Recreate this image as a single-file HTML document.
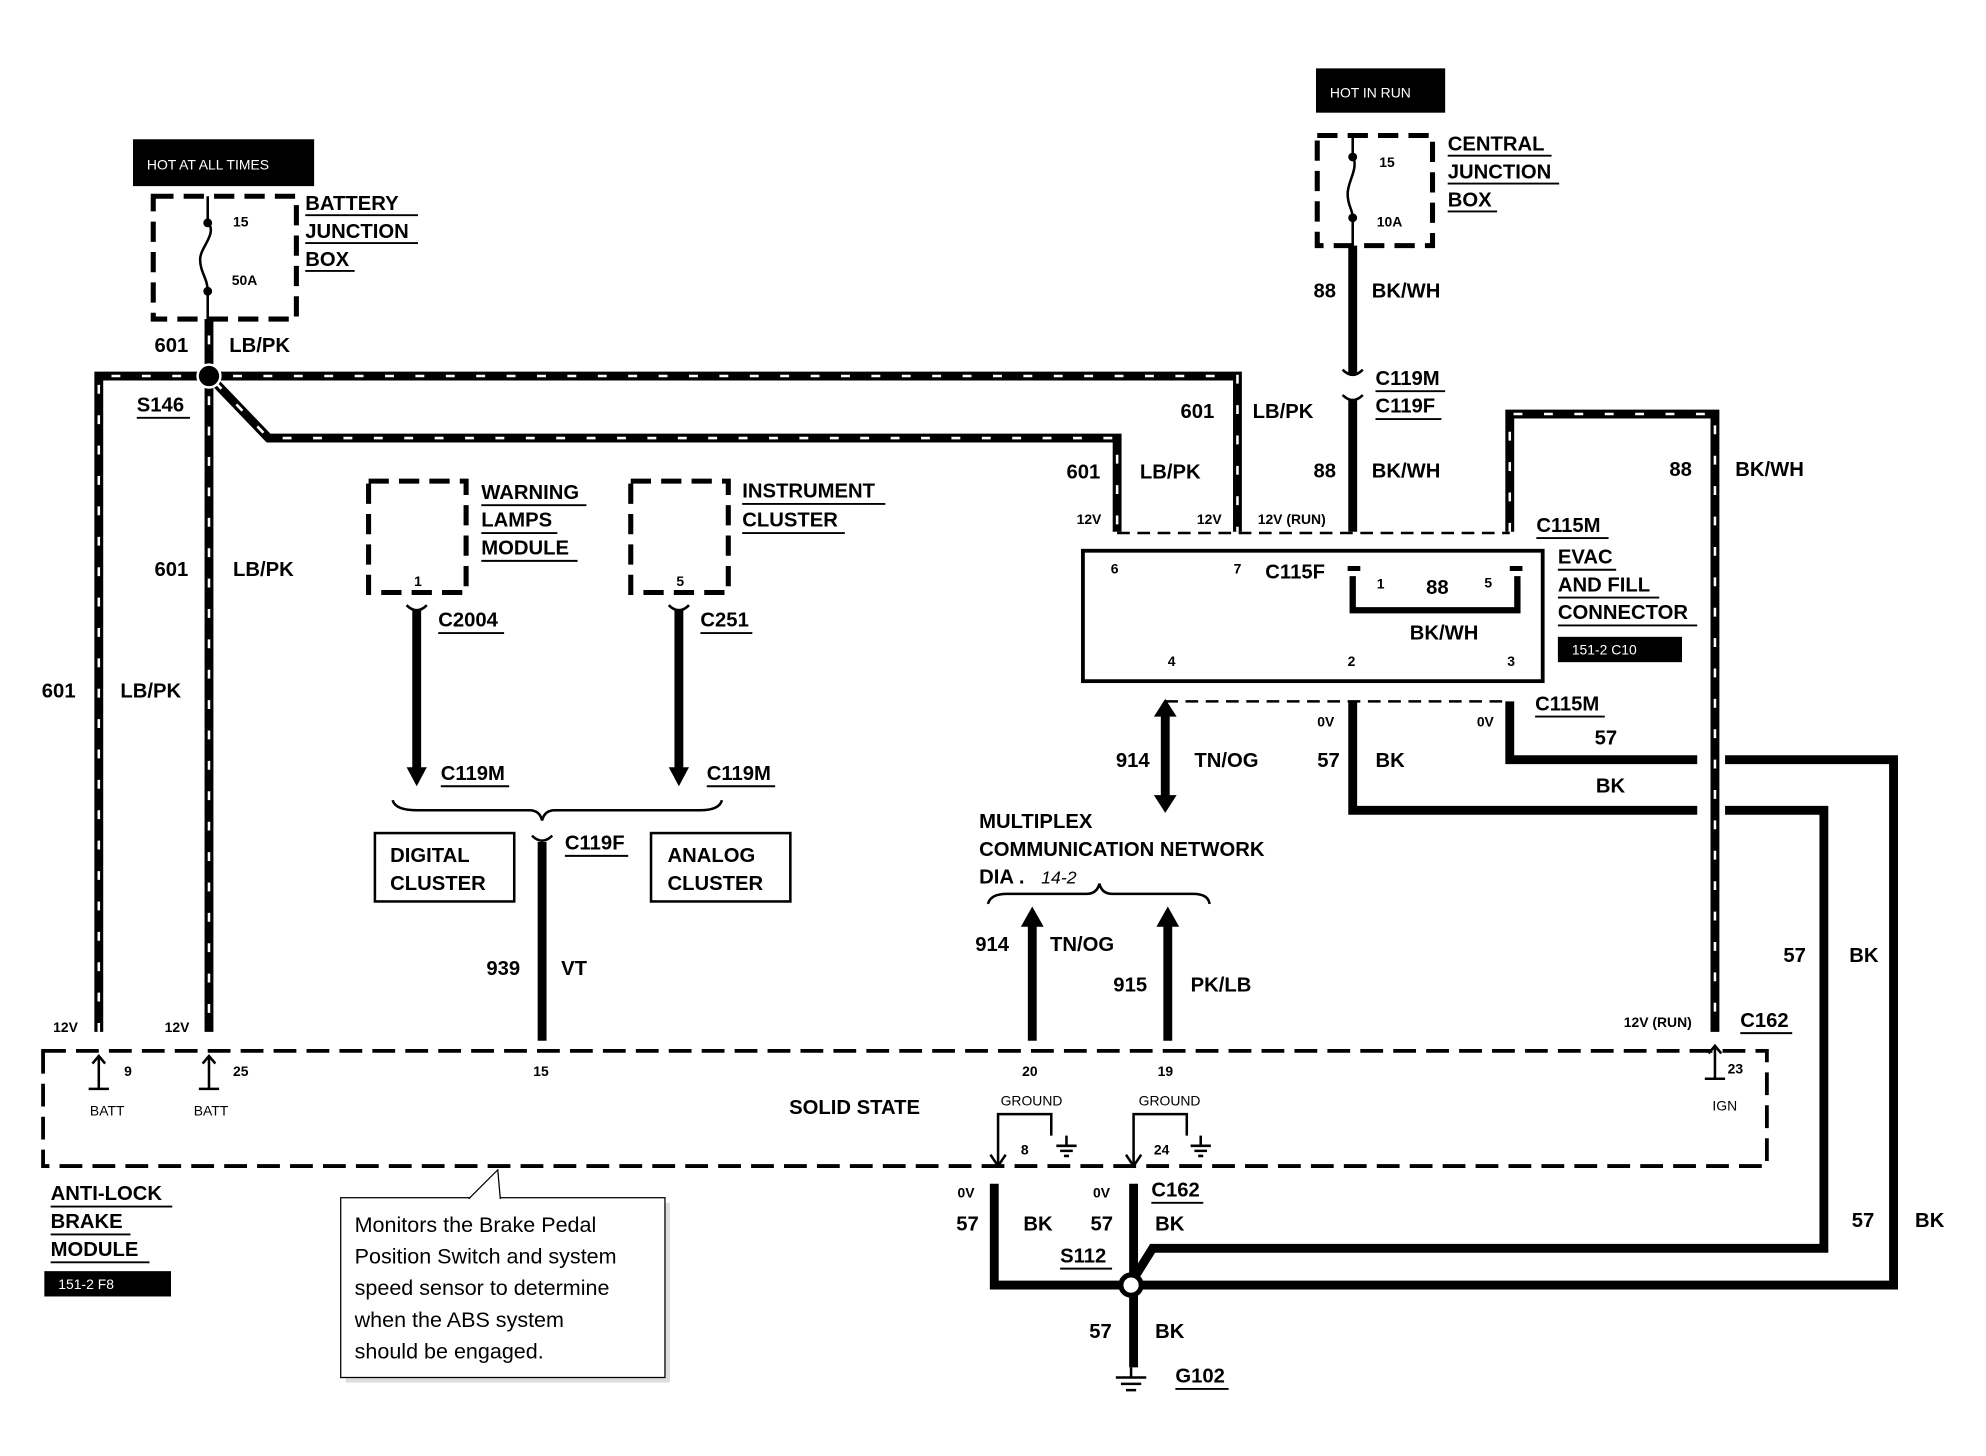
<!DOCTYPE html>
<html><head><meta charset="utf-8"><style>
html,body{margin:0;padding:0;background:#fff}
svg{display:block}
text{font-family:"Liberation Sans",Arial,sans-serif;fill:#000}
.b{font-weight:bold;font-size:16px}
.s{font-size:11px;font-weight:bold}
.w{fill:#fff;font-size:11px}
</style></head><body>
<svg width="1986" height="1456" viewBox="0 0 1568 1150" preserveAspectRatio="none" xmlns="http://www.w3.org/2000/svg">
<g fill="none" stroke="#000" stroke-linejoin="miter">
<g stroke-width="7">
<path d="M78,815 V297 H977 V420"/>
<path d="M165,252 V815"/>
<path d="M165,297 L212,346 H882 V420"/>
<path d="M1192,420 V327 H1354 V815"/>
</g>
<g stroke="#fff" stroke-width="2" stroke-dasharray="7 17">
<path d="M78,815 V297 H977 V420"/>
<path d="M165,265 V815"/>
<path d="M170,302 L212,346 H882 V420"/>
<path d="M1192,420 V327 H1354 V815"/>
</g>
<g stroke-width="7">
<path d="M1068,194 V296"/><path d="M1068,316 V420"/>
<path d="M329,482 V608"/><path d="M536,482 V608"/>
<path d="M428,665 V822"/>
<path d="M920,565 V630"/>
<path d="M815,730 V822"/><path d="M922,730 V822"/>
<path d="M1068,554 V640 H1340"/><path d="M1362,640 H1440 V986 H910 L895,1010"/>
<path d="M1192,554 V600 H1340"/><path d="M1362,600 H1495 V1015 H785 V935"/>
<path d="M895,935 V1080"/>
</g>
<g fill="#000" stroke="none">
<path d="M321,606 L337,606 L329,621z"/><path d="M528,606 L544,606 L536,621z"/>
<path d="M911,628 L929,628 L920,642z"/><path d="M911,566 L929,566 L920,552z"/>
<path d="M806,732 L824,732 L815,716z"/><path d="M913,732 L931,732 L922,716z"/>
</g>
<g stroke-width="2">
<path d="M321,478 Q329,486 337,478"/><path d="M528,478 Q536,486 544,478"/>
<path d="M420,660 Q428,668 436,660"/>
<path d="M1060,292 Q1068,300 1076,292"/><path d="M1060,312 Q1068,320 1076,312"/>
</g>
<g stroke-width="4" stroke-dasharray="16 8">
<rect x="121" y="155" width="113" height="97"/>
<rect x="1040" y="107" width="91" height="87"/>
<rect x="291" y="380" width="77" height="88"/>
<rect x="498" y="380" width="77" height="88"/>
<rect x="34" y="830" width="1361" height="91" stroke-width="3" stroke-dasharray="18 8"/>
</g>
<g stroke-width="2" stroke-dasharray="10 6">
<path d="M882,421 H1192"/><path d="M920,554 H1192"/>
</g>
<g stroke-width="2">
<path d="M164,155 V175 C172,185 158,195 158,205 C158,215 164,220 164,230 V252"/>
<path d="M1068,107 V123 C1073,133 1064,143 1064,153 C1064,163 1068,165 1068,172 V194"/>
</g>
<circle cx="164" cy="176" r="3" fill="#000"/><circle cx="164" cy="230" r="3" fill="#000"/>
<circle cx="1068" cy="124" r="3" fill="#000"/><circle cx="1068" cy="172" r="3" fill="#000"/>
<rect x="855" y="435" width="363" height="103" stroke-width="3"/>
<path d="M1068,455 V482 H1198 V455" stroke-width="5"/>
<path d="M1064,449 L1074,449 M1192,449 L1202,449" stroke-width="4"/>
<path d="M310,632 Q312,640 330,640 H418 Q426,640 428,648 Q430,640 438,640 H552 Q568,640 570,632" stroke-width="2"/>
<path d="M780,714 Q782,706 795,706 H858 Q866,706 868,698 Q870,706 878,706 H942 Q954,706 955,714" stroke-width="2"/>
<rect x="296" y="658" width="110" height="54" stroke-width="2"/>
<rect x="514" y="658" width="110" height="54" stroke-width="2"/>
<circle cx="165" cy="297" r="9" fill="#000" stroke="#fff" stroke-width="2"/>
<circle cx="893" cy="1015" r="8" fill="#fff" stroke-width="4"/>
<g stroke-width="2">
<path d="M78,834 V860 M70,860 H86 M73,840 L78,834 L83,840"/>
<path d="M165,834 V860 M157,860 H173 M160,840 L165,834 L170,840"/>
<path d="M1354,826 V852 M1346,852 H1362 M1349,832 L1354,826 L1359,832"/>
<path d="M788,921 V880 H830 V897 M895,921 V880 H937 V897"/>
<path d="M782,912 L788,921 L794,912 M889,912 L895,921 L901,912"/>
<path d="M842,897 V905 M834,905 H850 M837,909 H847 M840,913 H844"/>
<path d="M948,897 V905 M940,905 H956 M943,909 H953 M946,913 H950"/>
<path d="M893,1080 V1088 M881,1088 H905 M885,1093 H901 M889,1098 H897"/>
</g>
<rect x="273" y="950" width="256" height="142" fill="#ddd" stroke="none"/>
<rect x="269" y="946" width="256" height="142" fill="#fff" stroke-width="1"/>
<path d="M370,947 L393,924 L395,947" fill="#fff" stroke-width="1"/>
<g stroke-width="1.5">
<path d="M241,170 H330 M241,192 H330 M241,214 H280"/>
<path d="M1143,123 H1225 M1143,145 H1231 M1143,167 H1182"/>
<path d="M380,399 H463 M380,421 H440 M380,443 H456"/>
<path d="M586,398 H699 M586,421 H667"/>
<path d="M346,500 H398 M553,500 H594"/>
<path d="M348,621 H402 M558,621 H612 M446,676 H496"/>
<path d="M1086,309 H1141 M1086,331 H1138"/>
<path d="M1213,425 H1270 M1230,450 H1276 M1230,472 H1310 M1230,494 H1340"/>
<path d="M1212,566 H1267"/>
<path d="M108,330 H150 M1374,816 H1415 M909,950 H950 M837,1002 H878 M928,1097 H970"/>
<path d="M40,953 H136 M40,975 H103 M40,997 H118"/>
</g>
</g>
<rect x="105" y="110" width="143" height="37" fill="#000"/>
<text x="116" y="134" class="w">HOT AT ALL TIMES</text>
<rect x="1039" y="54" width="102" height="35" fill="#000"/>
<text x="1050" y="77" class="w">HOT IN RUN</text>
<rect x="1230" y="503" width="98" height="20" fill="#000"/>
<text x="1241" y="517" class="w">151-2 C10</text>
<rect x="35" y="1004" width="100" height="20" fill="#000"/>
<text x="46" y="1018" class="w">151-2 F8</text>
<g class="b">
<text x="241" y="166">BATTERY</text><text x="241" y="188">JUNCTION</text><text x="241" y="210">BOX</text>
<text x="1143" y="119">CENTRAL</text><text x="1143" y="141">JUNCTION</text><text x="1143" y="163">BOX</text>
<text x="122" y="278">601</text><text x="181" y="278">LB/PK</text>
<text x="108" y="325">S146</text>
<text x="122" y="455">601</text><text x="184" y="455">LB/PK</text>
<text x="33" y="551">601</text><text x="95" y="551">LB/PK</text>
<text x="380" y="394">WARNING</text><text x="380" y="416">LAMPS</text><text x="380" y="438">MODULE</text>
<text x="586" y="393">INSTRUMENT</text><text x="586" y="416">CLUSTER</text>
<text x="346" y="495">C2004</text><text x="553" y="495">C251</text>
<text x="348" y="616">C119M</text><text x="558" y="616">C119M</text>
<text x="308" y="681">DIGITAL</text><text x="308" y="703">CLUSTER</text>
<text x="527" y="681">ANALOG</text><text x="527" y="703">CLUSTER</text>
<text x="446" y="671">C119F</text>
<text x="384" y="770">939</text><text x="443" y="770">VT</text>
<text x="1037" y="235">88</text><text x="1083" y="235">BK/WH</text>
<text x="1086" y="304">C119M</text><text x="1086" y="326">C119F</text>
<text x="932" y="330">601</text><text x="989" y="330">LB/PK</text>
<text x="842" y="378">601</text><text x="900" y="378">LB/PK</text>
<text x="1037" y="377">88</text><text x="1083" y="377">BK/WH</text>
<text x="1318" y="376">88</text><text x="1370" y="376">BK/WH</text>
<text x="1213" y="420">C115M</text>
<text x="999" y="457">C115F</text>
<text x="1126" y="469">88</text><text x="1113" y="505">BK/WH</text>
<text x="1230" y="445">EVAC</text><text x="1230" y="467">AND FILL</text><text x="1230" y="489">CONNECTOR</text>
<text x="1212" y="561">C115M</text><text x="1259" y="588">57</text>
<text x="881" y="606">914</text><text x="943" y="606">TN/OG</text>
<text x="1040" y="606">57</text><text x="1086" y="606">BK</text>
<text x="1260" y="626">BK</text>
<text x="773" y="654">MULTIPLEX</text><text x="773" y="676">COMMUNICATION NETWORK</text>
<text x="773" y="698">DIA .</text><text x="822" y="698" font-style="italic" font-weight="normal" font-size="14">14-2</text>
<text x="770" y="751">914</text><text x="829" y="751">TN/OG</text>
<text x="879" y="783">915</text><text x="940" y="783">PK/LB</text>
<text x="1408" y="760">57</text><text x="1460" y="760">BK</text>
<text x="1374" y="811">C162</text>
<text x="623" y="880">SOLID STATE</text>
<text x="755" y="972">57</text><text x="808" y="972">BK</text>
<text x="861" y="972">57</text><text x="912" y="972">BK</text>
<text x="909" y="945">C162</text><text x="837" y="997">S112</text>
<text x="860" y="1057">57</text><text x="912" y="1057">BK</text>
<text x="928" y="1092">G102</text>
<text x="1462" y="969">57</text><text x="1512" y="969">BK</text>
<text x="40" y="948">ANTI-LOCK</text><text x="40" y="970">BRAKE</text><text x="40" y="992">MODULE</text>
</g>
<g class="s">
<text x="184" y="179">15</text><text x="183" y="225">50A</text>
<text x="1089" y="132">15</text><text x="1087" y="179">10A</text>
<text x="327" y="463">1</text><text x="534" y="463">5</text>
<text x="850" y="414">12V</text><text x="945" y="414">12V</text><text x="993" y="414">12V (RUN)</text>
<text x="877" y="453">6</text><text x="974" y="453">7</text>
<text x="1087" y="465">1</text><text x="1172" y="464">5</text>
<text x="922" y="526">4</text><text x="1064" y="526">2</text><text x="1190" y="526">3</text>
<text x="1040" y="574">0V</text><text x="1166" y="574">0V</text>
<text x="42" y="815">12V</text><text x="130" y="815">12V</text>
<text x="1282" y="811">12V (RUN)</text>
<text x="98" y="850">9</text><text x="184" y="850">25</text><text x="421" y="850">15</text>
<text x="807" y="850">20</text><text x="914" y="850">19</text><text x="1364" y="848">23</text>
<text x="790" y="873" font-weight="normal">GROUND</text><text x="899" y="873" font-weight="normal">GROUND</text>
<text x="806" y="912">8</text><text x="911" y="912">24</text>
<text x="71" y="881" font-weight="normal">BATT</text><text x="153" y="881" font-weight="normal">BATT</text>
<text x="1352" y="877" font-weight="normal">IGN</text>
<text x="756" y="946">0V</text><text x="863" y="946">0V</text>
</g>
<g font-size="17">
<text x="280" y="973">Monitors the Brake Pedal</text>
<text x="280" y="998">Position Switch and system</text>
<text x="280" y="1023">speed sensor to determine</text>
<text x="280" y="1048">when the ABS system</text>
<text x="280" y="1073">should be engaged.</text>
</g>
</svg>
</body></html>
